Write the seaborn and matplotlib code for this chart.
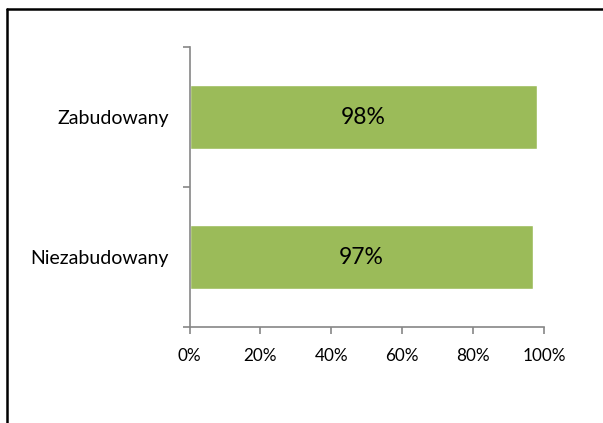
import matplotlib
matplotlib.use("Agg")
import matplotlib.pyplot as plt
import seaborn as sns
from matplotlib.lines import Line2D
from matplotlib.ticker import FixedLocator, PercentFormatter

categories = ["Zabudowany", "Niezabudowany"]
values = [98, 97]
bar_labels = ["98%", "97%"]
x_ticks = [0, 20, 40, 60, 80, 100]

sns.set_style("white")
plt.rcParams["font.family"] = ["Lato", "DejaVu Sans"]

fig = plt.figure(figsize=(6.03, 4.23), dpi=100)
ax = fig.add_axes([189.5 / 603, 95.7 / 423, 354.5 / 603, 280 / 423])

sns.barplot(x=values, y=categories, color="#9BBB59", width=0.4545,
            orient="h", ax=ax, saturation=1)

for i, lab in enumerate(bar_labels):
    ax.text(values[i] / 2, i, lab, ha="center", va="center",
            fontsize=16.5, color="black")

ax.set_xlim(0, 100)
ax.set_ylim(1.5, -0.5)
ax.xaxis.set_major_locator(FixedLocator(x_ticks))
ax.xaxis.set_major_formatter(PercentFormatter(decimals=0))
ax.set_xlabel("")
ax.set_ylabel("")

axis_col = "#868686"
for s in ["top", "right"]:
    ax.spines[s].set_visible(False)
for s in ["left", "bottom"]:
    ax.spines[s].set_color(axis_col)
    ax.spines[s].set_linewidth(1.2)

ax.tick_params(axis="x", bottom=True, length=5, width=1.2, color=axis_col,
               labelsize=12.3, pad=10, labelcolor="black")
ax.tick_params(axis="y", which="major", left=False, length=0,
               labelsize=14, pad=15, labelcolor="black")
ax.yaxis.set_minor_locator(FixedLocator([-0.5, 0.5, 1.5]))
ax.tick_params(axis="y", which="minor", left=True, length=5, width=1.2,
               color=axis_col)

# outer chart border (only top and left edges visible in the crop)
fig.add_artist(Line2D([6.5 / 603, 6.5 / 603], [0, 1 - 9 / 423],
                      transform=fig.transFigure, color="black", lw=1.8))
fig.add_artist(Line2D([6.5 / 603, 1], [1 - 9 / 423, 1 - 9 / 423],
                      transform=fig.transFigure, color="black", lw=1.8))

fig.savefig("out.png", dpi=100)
